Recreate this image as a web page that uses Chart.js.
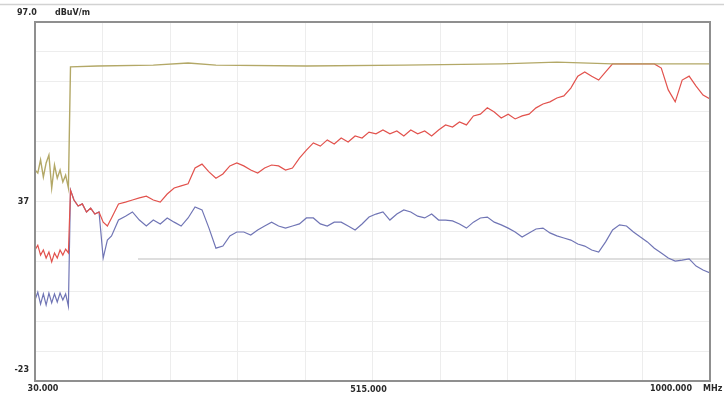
<!DOCTYPE html>
<html>
<head>
<meta charset="utf-8">
<script src="https://cdn.jsdelivr.net/npm/chart.js@4.4.0/dist/chart.umd.min.js"></script>
<style>
  html, body { margin: 0; padding: 0; background: #fff; }
  #wrap { width: 724px; height: 395px; position: relative; }
</style>
</head>
<body>
<div id="wrap"><canvas id="emiChart"></canvas></div>
<script>
/******* data ***************************/
// frequency points (MHz) shared by the two measured traces
const freqs = [30,34,38,42,46,50,54,58,62,66,70,74,78,
    81,86,92,98,104,110,116,122,128,134,140,
    150,160,170,180,190,200,210,220,230,240,250,
    260,270,280,290,300,310,320,330,340,350,
    360,370,380,390,400,410,420,430,440,450,
    460,470,480,490,500,510,520,530,540,550,
    560,570,580,590,600,610,620,630,640,650,
    660,670,680,690,700,710,720,730,740,750,
    760,770,780,790,800,810,820,830,840,850,
    860,870,880,890,900,910,920,930,940,950,
    960,970,980,990,1000];

const redVals = [20.8,22.4,19.1,20.8,18.1,20.1,16.8,19.8,18.1,20.8,19.1,21.1,19.8,
    40.8,37.5,35.5,36.2,33.5,34.8,32.8,33.5,30.1,28.8,31.5,
    36.2,36.8,37.5,38.2,38.8,37.5,36.8,39.5,41.5,42.2,42.9,
    48.2,49.5,46.9,44.8,46.2,48.9,49.9,48.9,47.5,46.5,
    48.2,49.2,48.9,47.5,48.2,51.5,54.2,56.6,55.5,57.6,
    56.2,58.2,56.9,58.9,58.2,60.2,59.6,60.9,59.6,60.6,
    58.9,60.9,59.6,60.6,58.9,60.9,62.6,61.9,63.6,62.6,
    65.6,66.2,68.3,66.9,64.9,66.2,64.6,65.6,66.2,68.3,
    69.6,70.3,71.6,72.3,74.9,78.9,80.3,78.9,77.6,80.3,
    83.0,83.0,83.0,83.0,83.0,83.0,83.0,81.6,74.3,70.3,
    77.6,78.9,75.6,72.6,71.3];

const blueVals = [4.1,6.7,2.7,6.1,2.4,6.4,3.1,6.1,3.4,6.4,4.1,6.1,2.0,
    40.8,37.5,35.5,36.2,33.5,34.8,32.8,33.5,18.1,24.1,25.5,
    30.8,32.1,33.5,30.8,28.8,30.8,29.5,31.5,30.1,28.8,31.5,
    35.2,34.2,28.1,21.4,22.1,25.5,26.8,26.8,25.8,27.5,
    28.8,30.1,28.8,28.1,28.8,29.5,31.5,31.5,29.5,28.8,
    30.1,30.1,28.8,27.5,29.5,31.8,32.8,33.5,30.8,32.8,
    34.2,33.5,32.1,31.5,32.8,30.8,30.8,30.5,29.5,28.1,
    30.1,31.5,31.8,30.1,29.2,28.1,26.8,25.1,26.5,27.8,
    28.1,26.5,25.5,24.8,24.1,22.8,22.1,20.8,20.1,23.5,
    27.5,29.2,28.8,26.8,25.1,23.5,21.4,19.8,18.1,17.1,
    17.4,17.8,15.4,14.1,13.1];

// olive trace has its own points
const oliveFreqs = [30,34,38,42,46,50,54,58,62,66,70,74,78,81,120,200,250,290,420,560,700,780,860,1000];
const oliveVals = [47.5,46.5,50.9,45.2,49.9,52.5,41.5,49.2,44.8,47.5,43.5,45.8,41.5,
    82.0,82.3,82.6,83.3,82.6,82.3,82.6,83.0,83.6,83.0,83.0];

// grey level line
const limitFreqs = [178, 1000];
const limitVals = [17.8, 17.8];

// axes
const xMin = 30, xMax = 1000;
const yMin = -23, yMax = 97;
const xTickValues = [30, 515, 1000];
const xTickLabels = ['30.000', '515.000', '1000.000'];
const yTickValues = [37, -23];
const yTopLabel = '97.0';
const unitY = 'dBuV/m';
const unitX = 'MHz';

/******** build points *********/
const toPoints = (xs, ys) => xs.map((x, i) => ({x: x, y: ys[i]}));

const lineSet = (label, pts, color, width) => ({
    label,
    data: pts,
    borderColor: color,
    borderWidth: width,
    pointRadius: 0,
    tension: 0,
    fill: false
});

/******** labels + frame plugin *********/
const framePlugin = {
    id: 'frame',
    afterDraw(chart) {
        const c = chart.ctx, a = chart.chartArea;
        const xs = chart.scales.x, ys = chart.scales.y;
        c.save();
        // header rule
        c.strokeStyle = '#d2d2d2';
        c.lineWidth = 1.5;
        c.beginPath(); c.moveTo(0, 4.5); c.lineTo(chart.width, 4.5); c.stroke();
        // plot frame
        c.strokeStyle = '#8f8f8f';
        c.lineWidth = 2;
        c.strokeRect(a.left, a.top, a.right - a.left, a.bottom - a.top);

        c.fillStyle = '#2a2a2a';
        c.font = 'bold 8px "DejaVu Sans"';
        c.textBaseline = 'middle';
        c.textAlign = 'left';
        c.fillText(yTopLabel, 17, 13);
        c.fillText(unitY, 55, 13);
        c.textAlign = 'right';
        yTickValues.forEach(v => {
            let py = ys.getPixelForValue(v);
            if (v === yMin) py -= 11;
            c.fillText(String(v), 29, py);
        });
        xTickValues.forEach((v, i) => {
            const px = xs.getPixelForValue(v);
            if (i === 0) { c.textAlign = 'center'; c.fillText(xTickLabels[i], px + 8, 389); }
            else if (i === xTickValues.length - 1) { c.textAlign = 'right'; c.fillText(xTickLabels[i], px - 18, 389); }
            else { c.textAlign = 'center'; c.fillText(xTickLabels[i], px - 4, 390); }
        });
        c.textAlign = 'left';
        c.fillText(unitX, 703, 389);
        c.restore();
    }
};

/******* chart *******/
const ctx = document.getElementById('emiChart').getContext('2d');
const emiChart = new Chart(ctx, {
    type: 'line',
    data: {
        datasets: [
            lineSet('peak', toPoints(oliveFreqs, oliveVals), '#b3a867', 1.4),
            lineSet('horizontal', toPoints(freqs, redVals), '#e2524d', 1.2),
            lineSet('vertical', toPoints(freqs, blueVals), '#7075b5', 1.2),
            lineSet('level', toPoints(limitFreqs, limitVals), '#bdbdbd', 1.1)
        ]
    },
    options: {
        responsive: true,
        maintainAspectRatio: false,
        animation: false,
        layout: { padding: { left: 35, right: 14, top: 22, bottom: 14 } },
        plugins: { legend: { display: false }, tooltip: { enabled: false } },
        scales: {
            x: {
                type: 'linear',
                min: xMin, max: xMax,
                afterBuildTicks: s => { s.ticks = Array.from({length: 11}, (_, k) => ({value: xMin + k * (xMax - xMin) / 10})); },
                ticks: { display: false },
                grid: { color: '#ededed', drawTicks: false },
                border: { display: false }
            },
            y: {
                type: 'linear',
                min: yMin, max: yMax,
                afterBuildTicks: s => { s.ticks = Array.from({length: 13}, (_, k) => ({value: yMin + k * 10})); },
                ticks: { display: false },
                grid: { color: '#ededed', drawTicks: false },
                border: { display: false }
            }
        }
    },
    plugins: [framePlugin]
});
</script>
</body>
</html>
